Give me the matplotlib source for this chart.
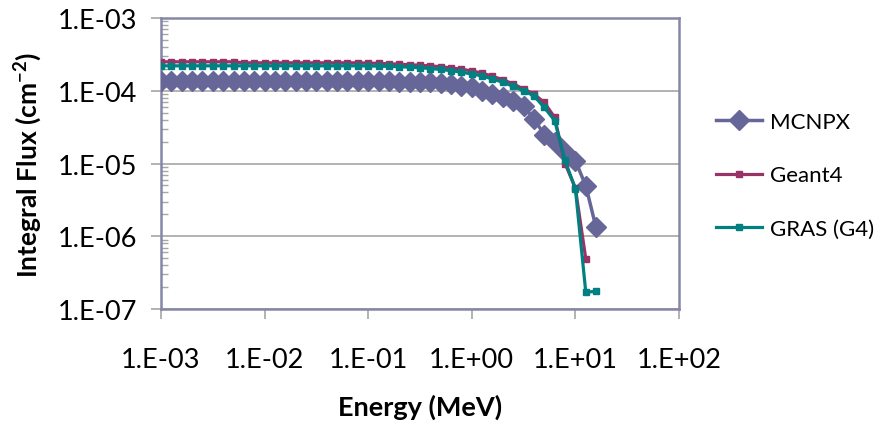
import numpy as np
import matplotlib
matplotlib.use('Agg')
import matplotlib.pyplot as plt
from matplotlib.ticker import FixedLocator, FuncFormatter, LogLocator, NullLocator

plt.rcParams['font.family'] = ['Lato', 'DejaVu Sans']
plt.rcParams['mathtext.fontset'] = 'custom'
plt.rcParams['mathtext.rm'] = 'Lato'
plt.rcParams['mathtext.bf'] = 'Lato:bold'

# energy grid (MeV), 10 points per decade
energy = [1.00e-3, 1.26e-3, 1.58e-3, 2.00e-3, 2.51e-3, 3.16e-3, 3.98e-3, 5.01e-3, 6.31e-3, 7.94e-3,
          1.00e-2, 1.26e-2, 1.58e-2, 2.00e-2, 2.51e-2, 3.16e-2, 3.98e-2, 5.01e-2, 6.31e-2, 7.94e-2,
          0.100, 0.126, 0.158, 0.200, 0.251, 0.316, 0.398, 0.501, 0.631, 0.794,
          1.00, 1.26, 1.58, 2.00, 2.51, 3.16, 3.98, 5.01, 6.31, 7.94,
          10.0, 12.6, 15.8]

mcnpx = [1.37e-4, 1.37e-4, 1.37e-4, 1.37e-4, 1.37e-4, 1.37e-4, 1.37e-4, 1.37e-4, 1.37e-4, 1.37e-4,
         1.37e-4, 1.37e-4, 1.37e-4, 1.37e-4, 1.37e-4, 1.37e-4, 1.37e-4, 1.37e-4, 1.37e-4, 1.37e-4,
         1.36e-4, 1.36e-4, 1.35e-4, 1.34e-4, 1.33e-4, 1.32e-4, 1.30e-4, 1.28e-4, 1.24e-4, 1.18e-4,
         1.11e-4, 1.00e-4, 9.0e-5, 8.1e-5, 7.3e-5, 6.2e-5, 4.1e-5, 2.5e-5, 1.95e-5, 1.45e-5,
         1.09e-5, 4.95e-6, 1.33e-6]

geant4 = [2.50e-4, 2.50e-4, 2.50e-4, 2.50e-4, 2.50e-4, 2.50e-4, 2.50e-4, 2.50e-4, 2.42e-4, 2.42e-4,
          2.42e-4, 2.42e-4, 2.42e-4, 2.42e-4, 2.42e-4, 2.42e-4, 2.42e-4, 2.42e-4, 2.42e-4, 2.42e-4,
          2.40e-4, 2.38e-4, 2.35e-4, 2.32e-4, 2.28e-4, 2.24e-4, 2.20e-4, 2.14e-4, 2.06e-4, 1.98e-4,
          1.87e-4, 1.75e-4, 1.58e-4, 1.42e-4, 1.24e-4, 1.06e-4, 9.0e-5, 6.9e-5, 4.3e-5, 1.0e-5,
          4.6e-6, 4.9e-7]

gras = [2.20e-4, 2.20e-4, 2.20e-4, 2.20e-4, 2.20e-4, 2.20e-4, 2.20e-4, 2.20e-4, 2.20e-4, 2.20e-4,
        2.20e-4, 2.20e-4, 2.20e-4, 2.20e-4, 2.20e-4, 2.20e-4, 2.20e-4, 2.20e-4, 2.20e-4, 2.20e-4,
        2.19e-4, 2.18e-4, 2.16e-4, 2.14e-4, 2.11e-4, 2.07e-4, 2.02e-4, 1.96e-4, 1.89e-4, 1.80e-4,
        1.70e-4, 1.60e-4, 1.45e-4, 1.31e-4, 1.15e-4, 1.00e-4, 8.5e-5, 5.9e-5, 3.9e-5, 1.1e-5,
        4.5e-6, 1.7e-7, 1.75e-7]

xticks = [1e-3, 1e-2, 1e-1, 1e0, 1e1, 1e2]
yticks = [1e-7, 1e-6, 1e-5, 1e-4, 1e-3]

axis_col = '#8686A8'
grid_col = '#A6A6A6'

fig = plt.figure(figsize=(8.77, 4.27), dpi=100)
ax = fig.add_axes([0.1836, 0.274, 0.5906, 0.6815])

ax.plot(energy, mcnpx, color='#666699', lw=2.5, marker='D', ms=10, label='MCNPX', zorder=3)
ax.plot(energy[:len(geant4)], geant4, color='#993366', lw=2.3, marker='s', ms=4, label='Geant4', zorder=4)
ax.plot(energy, gras, color='#008080', lw=2.3, marker='s', ms=4, label='GRAS (G4)', zorder=5)

ax.set_xscale('log')
ax.set_yscale('log')
ax.set_xlim(1e-3, 1e2)
ax.set_ylim(1e-7, 1e-3)

fmt = FuncFormatter(lambda v, p: '1.E%+03d' % int(round(np.log10(v))))
ax.xaxis.set_major_locator(FixedLocator(xticks))
ax.xaxis.set_minor_locator(NullLocator())
ax.yaxis.set_major_locator(FixedLocator(yticks))
ax.yaxis.set_minor_locator(LogLocator(base=10, subs=np.arange(2, 10), numticks=20))
ax.xaxis.set_major_formatter(fmt)
ax.yaxis.set_major_formatter(fmt)
ax.yaxis.set_minor_formatter(FuncFormatter(lambda v, p: ''))

ax.tick_params(axis='x', which='major', direction='out', length=7, width=1.2, color=grid_col,
               labelsize=19.5, pad=20)
ax.tick_params(axis='y', which='major', direction='out', length=7, width=1.2, color=grid_col,
               labelsize=19.5, pad=10)
ax.tick_params(axis='y', which='minor', direction='in', length=5, width=1, color=grid_col)

ax.grid(axis='y', which='major', color=grid_col, lw=1.2)
ax.set_axisbelow(True)
for s in ax.spines.values():
    s.set_color(axis_col)
    s.set_linewidth(1.8)

ax.set_xlabel('Energy (MeV)', fontsize=19.5, fontweight='bold', labelpad=16)
ax.set_ylabel(r'Integral Flux (cm$^{\mathbf{-2}}$)', fontsize=19, fontweight='bold', labelpad=10)

fig.legend(loc='center left', bbox_to_anchor=(0.816, 0.587), frameon=False, fontsize=16,
           handlelength=2.1, handletextpad=0.35, labelspacing=1.5, borderpad=0, borderaxespad=0)

fig.savefig('out.png', dpi=100)
